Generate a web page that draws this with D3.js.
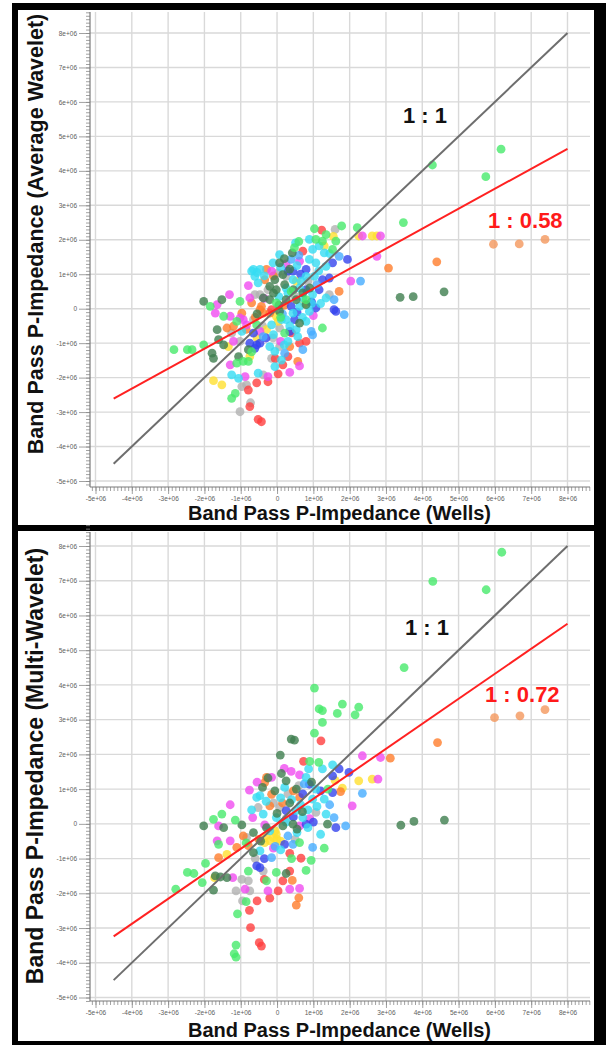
<!DOCTYPE html>
<html>
<head>
<meta charset="utf-8">
<script src="https://cdn.jsdelivr.net/npm/d3@7"></script>
<style>
  body { margin: 0; background: #fff; }
  svg { display: block; }
</style>
</head>
<body>
<svg id="chart" width="606" height="1045"></svg>
<script>
// ---- axis ticks (values in units of 1e+06) ----
const tickValues = [-5, -4, -3, -2, -1, 0, 1, 2, 3, 4, 5, 6, 7, 8];
const tickLabels = ["-5e+06", "-4e+06", "-3e+06", "-2e+06", "-1e+06", "0", "1e+06",
                    "2e+06", "3e+06", "4e+06", "5e+06", "6e+06", "7e+06", "8e+06"];

// ---- titles ----
const xTitle = "Band Pass P-Impedance (Wells)";
const yTitleTop = "Band Pass P-Impedance (Average Wavelet)";
const yTitleBottom = "Band Pass P-Impedance (Multi-Wavelet)";

// ---- reference lines: 1:1 and fitted slopes ----
const lineStart = -4.5, lineEnd = 8;
const slopeTop = 0.58, slopeBottom = 0.72;

// ---- well colours ----
const wellColors = {
  green: "#47ea6b", darkGreen: "#3f7e4f", cyan: "#36dcf2", skyBlue: "#46adff",
  blue: "#3444ee", magenta: "#f04cf0", red: "#ff3e3e", orange: "#ff7d2c",
  peach: "#f4975c", yellow: "#ffe030", gray: "#b2b2b2"
};

// ---- Average-wavelet inversion vs wells: [well, inversion] (1e+06) ----
const avgGreen = [[1.03,2.32],[1.78,2.40],[2.21,2.35],[1.07,2.01],[1.25,1.96],[1.62,1.96],[0.48,1.77],[1.53,1.72],
  [0.39,0.50],[-1.02,0.21],[0.80,0.26],[-1.84,0.07],[-1.11,-0.37],[-1.47,-0.22],[-0.56,-0.47],[1.25,-0.56],
  [-2.84,-1.19],[-2.47,-1.19],[-2.34,-1.19],[-2.02,-1.05],[-0.93,-1.53],[-1.11,-1.58],[-1.15,-2.46],[-1.25,-2.60],
  [-0.02,0.17],[0.21,-0.71],[-0.79,-1.53],[0.60,1.95],[1.35,2.15],[0.10,-0.25],[-0.70,-1.25],
  [4.28,4.17],[6.17,4.63],[5.75,3.83],[3.48,2.50]];
const avgDarkGreen = [[0.42,1.62],[0.07,1.33],[0.16,0.99],[-0.20,0.65],[-0.02,0.55],[0.71,0.46],[-2.02,0.21],[-1.52,0.26],
  [-0.38,0.31],[-0.20,0.26],[0.25,0.26],[0.53,0.26],[0.07,-0.08],[0.62,-0.42],[-1.65,-0.61],[-1.61,-0.90],
  [-1.47,-1.05],[-1.79,-1.29],[-1.75,-1.44],[-1.06,-1.39],[-0.06,0.84],[0.21,0.70],[0.80,0.12],[-0.79,-1.19],
  [0.20,1.45],[0.35,1.15],[-0.10,0.45],[0.45,0.55],[-0.55,-0.15],[0.90,0.60],[0.05,0.10],
  [3.39,0.33],[3.75,0.35],[4.60,0.49]];
const avgCyan = [[0.89,2.01],[0.51,1.91],[0.98,1.72],[1.16,1.82],[1.30,1.62],[0.07,1.57],[-0.11,1.33],[0.89,1.43],
  [1.07,1.33],[1.35,1.23],[-0.65,1.14],[-0.47,1.14],[0.44,0.84],[0.80,0.94],[1.03,0.94],[-0.52,0.75],[0.25,0.60],
  [0.62,0.60],[0.98,0.41],[1.35,0.31],[0.25,-0.32],[0.44,-0.13],[0.80,-0.37],[0.89,-0.08],[-0.97,-0.66],
  [0.53,-0.61],[-0.20,-1.10],[0.30,-0.95],[-0.06,-1.24],[0.12,-1.49],[-0.06,-1.68],[-1.25,-1.92],[-1.06,-2.02],
  [-0.52,-1.87],[-0.61,0.94],[-0.70,1.09],[0.66,0.80],[0.71,0.31],[0.62,0.07],[0.12,-0.32],[-0.15,-0.47],[0.57,-0.81],
  [-0.55,1.05],[-0.35,0.95],[0.10,1.20],[0.55,1.25],[1.15,1.10],[0.30,0.45],[0.05,0.35],[1.20,0.15],[0.95,0.15],
  [0.35,-0.50],[0.70,-0.25],[-0.10,-0.75],[0.20,-1.05],[1.45,1.60]];
const avgSkyBlue = [[1.85,-0.17],[2.30,0.80],[1.57,0.26],[0.98,-0.76],[0.94,-0.66],[-0.38,-0.81],[0.21,-1.29],
  [0.71,-1.19],[1.71,1.52],[0.39,1.43],[0.60,1.55],[1.10,0.70],[0.15,-0.15]];
const avgBlue = [[1.53,1.33],[1.94,1.43],[0.80,1.14],[0.30,1.09],[1.25,0.84],[1.44,0.89],[1.16,0.55],[1.07,0.02],
  [1.57,-0.03],[1.62,-0.08],[-0.65,-0.71],[0.35,-0.66],[-0.75,-1.00],[-0.61,-1.15],[-0.56,-1.05],[0.44,1.09],
  [0.80,0.55],[0.39,0.07],[0.48,-0.32],[-0.47,-1.00],[0.65,1.00],[0.95,0.20],[-0.30,-0.85],[0.55,-0.10]];
const avgMagenta = [[2.35,2.11],[2.85,2.11],[2.75,1.52],[0.62,1.38],[-0.15,1.09],[2.03,0.80],[-0.79,0.67],[-1.31,0.41],
  [-0.75,0.31],[-1.65,0.12],[-1.70,-0.13],[-0.93,-0.32],[-1.29,-0.22],[-0.84,-0.47],[-1.20,-0.95],[-1.29,-1.63],
  [0.62,-1.66],[0.35,-1.85],[-0.88,-1.97],[-0.25,-1.97],[-1.02,-0.27],[-0.47,-0.66],
  [0.25,1.30],[-0.35,0.30],[0.10,-0.95],[1.00,-0.20]];
const avgRed = [[1.23,2.28],[0.71,1.67],[-0.15,-0.03],[0.62,-1.00],[0.16,-1.63],[0.30,-1.39],[0.03,-1.89],[-0.25,-2.12],
  [-0.56,-2.15],[-0.79,-2.36],[-0.75,-2.84],[-0.52,-3.21],[-0.43,-3.28],[0.80,-0.95],[0.40,-0.70],[-0.05,-1.45]];
const avgOrange = [[3.07,1.18],[-0.29,1.14],[1.71,0.50],[-0.34,0.84],[-0.70,0.17],[-0.97,-0.13],[-0.47,-0.03],
  [-0.38,-0.13],[-0.20,-0.13],[-1.38,-0.56],[-1.20,-0.51],[0.35,-1.10],[0.57,-1.53],[-0.43,0.07],[4.40,1.36],
  [-0.10,0.95],[-0.60,-0.25],[0.20,0.10],[-0.85,-0.60]];
const avgPeach = [[5.96,1.87],[6.67,1.88],[7.38,2.01]];
const avgYellow = [[2.25,2.11],[2.62,2.11],[2.75,2.11],[1.30,1.82],[0.53,0.80],[-0.02,-0.22],[-0.29,-0.61],
  [-0.75,-1.39],[-1.75,-2.09],[-1.52,-2.21],[0.03,-0.37],[-1.34,-1.10],[0.75,0.15],[-0.55,-0.85],[1.55,2.10]];
const avgGray = [[1.60,2.30],[0.03,1.04],[-0.47,0.41],[-0.61,0.41],[1.44,0.41],[-1.25,-0.71],[0.07,-0.56],[-1.02,-0.95],
  [0.07,-1.10],[-0.15,-1.44],[-0.38,-1.92],[-0.84,-2.21],[-0.97,-2.26],[-0.73,-2.73],[-1.02,-2.99],[0.25,0.94],
  [-0.65,-0.32],[-0.11,-0.85],[0.50,0.35],[-0.25,0.55],[0.85,0.80],[-0.40,-0.50]];

// ---- Multi-wavelet inversion vs wells: [well, inversion] (1e+06) ----
const mwGreen = [[1.03,3.91],[1.16,3.31],[1.25,3.26],[1.80,3.45],[2.25,3.36],[1.66,3.18],[2.15,3.14],[1.25,2.92],
  [1.03,2.61],[1.15,1.77],[-1.75,0.13],[-1.52,0.28],[-1.15,0.11],[-1.61,-0.59],[0.62,-0.54],[1.30,-0.70],
  [0.94,-1.05],[-0.02,-1.40],[0.80,-1.34],[-1.97,-1.14],[-2.47,-1.40],[-2.29,-1.43],[-2.79,-1.88],[-2.06,-1.69],
  [-0.79,-1.36],[-0.29,-1.64],[-1.09,-2.59],[-1.13,-3.49],[-1.18,-3.74],[-1.13,-3.84],[-0.85,-2.24],
  [0.90,1.80],[1.40,1.00],[-0.85,-0.55],[0.40,-1.00],
  [6.19,7.82],[4.29,6.98],[5.76,6.74],[3.50,4.50]];
const mwDarkGreen = [[0.39,2.44],[0.48,2.41],[0.09,1.98],[0.12,1.45],[-0.25,1.32],[-0.06,0.95],[0.53,1.00],[0.25,1.24],
  [1.39,-0.01],[-1.47,-0.11],[-2.02,-0.06],[-0.97,-0.03],[-0.65,-0.25],[-0.29,-0.11],[0.16,-0.06],[0.44,-0.01],
  [-0.65,-0.83],[0.25,-1.43],[-1.70,-1.50],[-1.56,-1.53],[-1.38,-1.55],[-1.75,-1.91],
  [0.35,0.60],[0.70,0.35],[0.00,0.30],[-0.40,1.05],[0.95,1.20],[0.55,-0.15],[-0.45,-0.50],
  [3.41,-0.04],[3.77,0.07],[4.61,0.11]];
const mwCyan = [[0.87,1.58],[1.25,1.58],[1.53,1.70],[0.80,1.34],[1.07,1.00],[-0.56,0.76],[-0.47,0.81],[0.21,1.05],
  [0.98,0.71],[1.30,0.71],[-0.38,0.28],[-0.02,0.18],[0.53,0.38],[0.71,0.18],[1.35,0.28],[0.85,-0.11],[-0.47,-0.78],
  [-0.30,0.65],[0.10,0.75],[0.40,0.70],[0.65,0.55],[1.10,0.50],[0.25,0.05],[0.55,-0.25],[-0.20,-0.20],[0.85,0.40],
  [1.20,-0.30],[-0.70,0.40],[0.10,-0.75]];
const mwSkyBlue = [[1.89,-0.06],[2.35,0.88],[0.98,-0.68],[1.57,0.18],[-0.15,-0.97],[0.44,-0.59],
  [0.75,1.15],[1.45,0.55],[-0.05,-0.65],[0.30,-0.35]];
const mwBlue = [[1.71,1.58],[1.98,1.48],[0.89,1.14],[1.53,1.38],[1.53,0.90],[0.71,0.86],[0.25,0.38],[1.62,-0.11],
  [0.80,-0.01],[0.21,-0.59],[-0.56,-1.21],[-0.47,-1.26],[1.20,0.95],[0.45,0.20],[-0.35,-1.00],[1.00,0.05]];
const mwMagenta = [[2.35,1.96],[2.85,1.91],[0.39,1.51],[0.62,1.41],[-0.15,1.34],[2.78,1.29],[2.07,0.52],[-0.76,0.97],
  [-1.29,0.55],[-0.67,0.18],[-1.61,-0.06],[-0.34,-0.03],[0.62,-0.06],[-1.65,-0.49],[-1.29,-0.49],[-1.22,-1.55],
  [-0.88,-1.88],[-0.25,-1.93],[0.35,-1.88],[0.62,-1.86],[0.20,1.60],[-0.55,1.20],[0.90,0.15],[-0.10,-0.70]];
const mwRed = [[1.21,2.39],[0.73,1.80],[0.66,-0.99],[0.35,-1.36],[0.16,-1.64],[0.03,-1.93],[-0.20,-2.14],[-0.55,-2.22],
  [-0.76,-2.49],[-0.73,-2.99],[-0.49,-3.42],[-0.43,-3.52],[0.35,-0.85],[-0.35,-1.60]];
const mwOrange = [[3.12,1.89],[-0.29,1.34],[-0.34,1.19],[1.75,0.93],[0.62,0.76],[-0.20,0.52],[-0.93,-0.35],
  [-1.61,-0.97],[-1.11,-0.68],[-0.79,-0.63],[0.42,-1.63],[0.60,-2.13],[0.53,-2.34],[4.42,2.34],
  [-0.15,0.85],[0.15,0.60],[-0.50,-0.45],[0.45,0.95]];
const mwPeach = [[5.99,3.06],[6.69,3.11],[7.38,3.29]];
const mwYellow = [[2.25,1.24],[2.62,1.29],[1.80,1.03],[-0.02,-0.30],[-0.20,-0.49],[-0.34,-0.54],[-1.38,-0.88],
  [-1.72,-1.55],[-0.10,-0.40],[0.00,-0.45],[-0.05,-0.20],[-0.30,-0.35],[0.10,-0.50],[1.60,1.25]];
const mwGray = [[0.30,0.86],[-0.52,0.47],[0.07,0.47],[1.07,0.33],[-0.84,-0.39],[-0.38,-1.36],[-0.97,-1.60],
  [-0.79,-1.64],[-1.13,-1.93],[-0.75,-1.93],[-0.95,-2.22],[0.25,0.15],[-0.10,0.60],[0.60,1.10],[-0.60,-1.00],
  [0.50,-0.45]];

// groups per panel, in drawing order
function groups(g) {
  return [
    ["gray", g.gray], ["yellow", g.yellow], ["orange", g.orange], ["peach", g.peach], ["red", g.red],
    ["magenta", g.magenta], ["blue", g.blue], ["skyBlue", g.skyBlue], ["cyan", g.cyan],
    ["darkGreen", g.darkGreen], ["green", g.green]
  ];
}

const panels = [
  {
    top: 12, bottom: 487, yTop: 33, yBottom: 481,
    yTitle: yTitleTop, yTitleCenter: 234, yTitleSize: 21.5, xTitleBase: 520,
    slope: slopeTop, slopeLabel: "1 : 0.58",
    oneLabelPos: [403, 123], slopeLabelPos: [488, 228],
    groups: groups({green: avgGreen, darkGreen: avgDarkGreen, cyan: avgCyan, skyBlue: avgSkyBlue, blue: avgBlue,
      magenta: avgMagenta, red: avgRed, orange: avgOrange, peach: avgPeach, yellow: avgYellow, gray: avgGray})
  },
  {
    top: 532, bottom: 1001, yTop: 546, yBottom: 997.5,
    yTitle: yTitleBottom, yTitleCenter: 766, yTitleSize: 23, xTitleBase: 1037,
    slope: slopeBottom, slopeLabel: "1 : 0.72",
    oneLabelPos: [405, 635], slopeLabelPos: [485, 702],
    groups: groups({green: mwGreen, darkGreen: mwDarkGreen, cyan: mwCyan, skyBlue: mwSkyBlue, blue: mwBlue,
      magenta: mwMagenta, red: mwRed, orange: mwOrange, peach: mwPeach, yellow: mwYellow, gray: mwGray})
  }
];

const svg = d3.select("#chart");

// black frame around both panels
svg.append("rect").attr("x", 12).attr("y", 3).attr("width", 594).attr("height", 1042).attr("fill", "#000");
svg.append("rect").attr("x", 18).attr("y", 10).attr("width", 576).attr("height", 515).attr("fill", "#fff");
svg.append("rect").attr("x", 18).attr("y", 531).attr("width", 576).attr("height", 510).attr("fill", "#fff");

const left = 90, right = 590;
const minorTicks = d3.range(-51, 87).map(d => d / 10);
const labelFont = "'Liberation Sans', Arial, sans-serif";

panels.forEach(p => {
  const x = d3.scaleLinear().domain([-5, 8]).range([95.5, 567.5]);
  const y = d3.scaleLinear().domain([-5, 8]).range([p.yBottom, p.yTop]);
  const g = svg.append("g");

  // grid
  g.append("g").selectAll("line").data(tickValues).join("line")
    .attr("x1", left).attr("x2", right).attr("y1", d => y(d)).attr("y2", d => y(d))
    .attr("stroke", "#d9d9d9").attr("stroke-width", 1.4);
  g.append("g").selectAll("line").data(tickValues).join("line")
    .attr("x1", d => x(d)).attr("x2", d => x(d)).attr("y1", p.top).attr("y2", p.bottom)
    .attr("stroke", "#d9d9d9").attr("stroke-width", 1.4);

  // scatter points
  p.groups.forEach(([name, pts]) => {
    g.append("g").selectAll("circle").data(pts).join("circle")
      .attr("cx", d => x(d[0])).attr("cy", d => y(d[1])).attr("r", 4.4)
      .attr("fill", wellColors[name]).attr("fill-opacity", 0.8);
  });

  // 1:1 line and fitted line
  g.append("line")
    .attr("x1", x(lineStart)).attr("y1", y(lineStart)).attr("x2", x(lineEnd)).attr("y2", y(lineEnd))
    .attr("stroke", "#6e6e6e").attr("stroke-width", 2);
  g.append("line")
    .attr("x1", x(lineStart)).attr("y1", y(lineStart * p.slope))
    .attr("x2", x(lineEnd)).attr("y2", y(lineEnd * p.slope))
    .attr("stroke", "#ff2121").attr("stroke-width", 2);

  // axes
  const yAxisMajor = d3.axisLeft(y).tickValues(tickValues)
    .tickFormat((d, i) => tickLabels[i]).tickSize(11).tickPadding(2);
  const yAxisMinor = d3.axisLeft(y).tickValues(minorTicks).tickFormat("").tickSize(4);
  const xAxisMajor = d3.axisBottom(x).tickValues(tickValues)
    .tickFormat((d, i) => tickLabels[i]).tickSize(7).tickPadding(2);
  const xAxisMinor = d3.axisBottom(x).tickValues(minorTicks).tickFormat("").tickSize(4);

  [[yAxisMinor, `translate(${left},0)`], [yAxisMajor, `translate(${left},0)`],
   [xAxisMinor, `translate(0,${p.bottom})`], [xAxisMajor, `translate(0,${p.bottom})`]].forEach(([ax, tr]) => {
    const a = g.append("g").attr("transform", tr).call(ax);
    a.select(".domain").remove();
    a.selectAll("line").attr("stroke", "#8a8a8a").attr("stroke-width", 0.8);
    a.selectAll("text").attr("fill", "#606060").attr("font-size", 6.5).attr("font-family", labelFont);
  });
  g.append("line").attr("x1", left).attr("x2", left).attr("y1", p.top).attr("y2", p.bottom)
    .attr("stroke", "#7a7a7a").attr("stroke-width", 1.2);
  g.append("line").attr("x1", left).attr("x2", right).attr("y1", p.bottom).attr("y2", p.bottom)
    .attr("stroke", "#7a7a7a").attr("stroke-width", 1.2);

  // ratio labels
  g.append("text").attr("x", p.oneLabelPos[0]).attr("y", p.oneLabelPos[1])
    .attr("font-family", labelFont).attr("font-weight", "bold").attr("font-size", 22)
    .attr("fill", "#111").text("1 : 1");
  g.append("text").attr("x", p.slopeLabelPos[0]).attr("y", p.slopeLabelPos[1])
    .attr("font-family", labelFont).attr("font-weight", "bold").attr("font-size", 22)
    .attr("fill", "#ff1a1a").text(p.slopeLabel);

  // axis titles
  g.append("text").attr("x", 339.5).attr("y", p.xTitleBase).attr("text-anchor", "middle")
    .attr("font-family", labelFont).attr("font-weight", "bold").attr("font-size", 20)
    .attr("fill", "#111").text(xTitle);
  g.append("text").attr("transform", `translate(43,${p.yTitleCenter}) rotate(-90)`)
    .attr("text-anchor", "middle")
    .attr("font-family", labelFont).attr("font-weight", "bold").attr("font-size", p.yTitleSize)
    .attr("fill", "#111").text(p.yTitle);
});
</script>
</body>
</html>
